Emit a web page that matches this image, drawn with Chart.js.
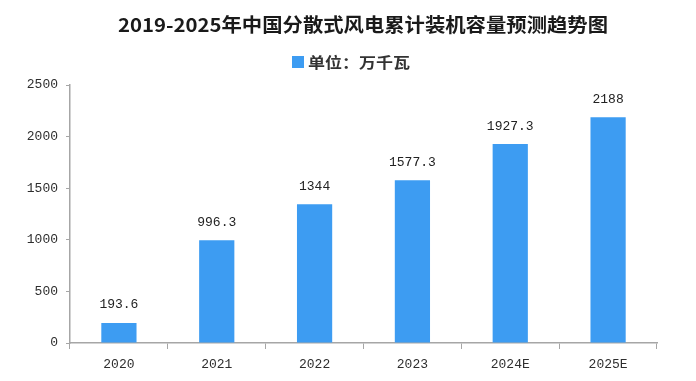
<!DOCTYPE html>
<html><head><meta charset="utf-8">
<script src="https://cdn.jsdelivr.net/npm/chart.js@4"></script>
<style>html,body{margin:0;padding:0;background:#fff}#wrap{width:696px;height:381px}</style>
</head><body><div id="wrap"><canvas id="c" width="696" height="381"></canvas></div>
<script>
const titleText = '2019-2025年中国分散式风电累计装机容量预测趋势图';
const seriesName = '单位：万千瓦';
const categories = ['2020', '2021', '2022', '2023', '2024E', '2025E'];
const values = [193.6, 996.3, 1344, 1577.3, 1927.3, 2188];
const yTicks = [0, 500, 1000, 1500, 2000, 2500];

const BAR = '#3d9cf2';
const AXIS = '#a6a6a6';
const TEXT = '#2e2e2e';
const MONO = '"Liberation Mono", "DejaVu Sans Mono", monospace';

const overlay = {
  id: 'overlay',
  afterDraw(chart) {
    const ctx = chart.ctx;
    ctx.save();
    // title
    ctx.font = 'bold 19px "Noto Sans CJK SC", sans-serif';
    ctx.fillStyle = '#1a1a1a';
    ctx.textBaseline = 'middle';
    const tw = ctx.measureText(titleText).width;
    const target = 490;
    const cx = 363;
    ctx.save();
    ctx.translate(cx - target / 2, 25);
    ctx.scale(target / tw, 1);
    ctx.textAlign = 'left';
    ctx.fillText(titleText, 0, 0);
    ctx.restore();
    // legend
    ctx.fillStyle = BAR;
    ctx.fillRect(292, 56, 12, 12);
    ctx.font = 'bold 15px "Noto Sans CJK SC", sans-serif';
    ctx.fillStyle = '#333';
    ctx.textAlign = 'left';
    const lw = ctx.measureText(seriesName).width;
    ctx.save();
    ctx.translate(308, 62);
    ctx.scale(102 / lw, 1);
    ctx.fillText(seriesName, 0, 0);
    ctx.restore();
    // data labels
    const meta = chart.getDatasetMeta(0);
    ctx.font = '13px ' + MONO;
    ctx.fillStyle = '#222';
    ctx.textAlign = 'center';
    ctx.textBaseline = 'middle';
    meta.data.forEach((bar, i) => {
      ctx.fillText(String(values[i]), bar.x, bar.y - 18);
    });
    ctx.restore();
  }
};

new Chart(document.getElementById('c'), {
  type: 'bar',
  data: {
    labels: categories,
    datasets: [{
      label: seriesName,
      data: values,
      backgroundColor: BAR,
      borderWidth: 0,
      categoryPercentage: 1,
      barPercentage: 0.36
    }]
  },
  options: {
    responsive: false,
    animation: false,
    devicePixelRatio: 1,
    layout: { padding: { left: 0, right: 39, top: 85, bottom: 0 } },
    plugins: { legend: { display: false }, title: { display: false }, tooltip: { enabled: false } },
    scales: {
      x: {
        grid: { offset: true, drawOnChartArea: false, drawTicks: true, tickLength: 6, color: AXIS },
        border: { color: AXIS, width: 1.5 },
        ticks: { color: TEXT, font: { family: MONO, size: 13 }, padding: 8 },
        afterFit(s) { s.height = 38; }
      },
      y: {
        min: 0, max: 2500,
        afterBuildTicks(s) { s.ticks = yTicks.map(v => ({ value: v })); },
        grid: { drawOnChartArea: false, drawTicks: true, tickLength: 4, color: AXIS },
        border: { color: AXIS, width: 1.5 },
        ticks: { color: TEXT, font: { family: MONO, size: 13 }, padding: 8, callback: v => String(v) },
        afterFit(s) { s.width = 70; }
      }
    }
  },
  plugins: [overlay]
});
</script>
</body></html>
